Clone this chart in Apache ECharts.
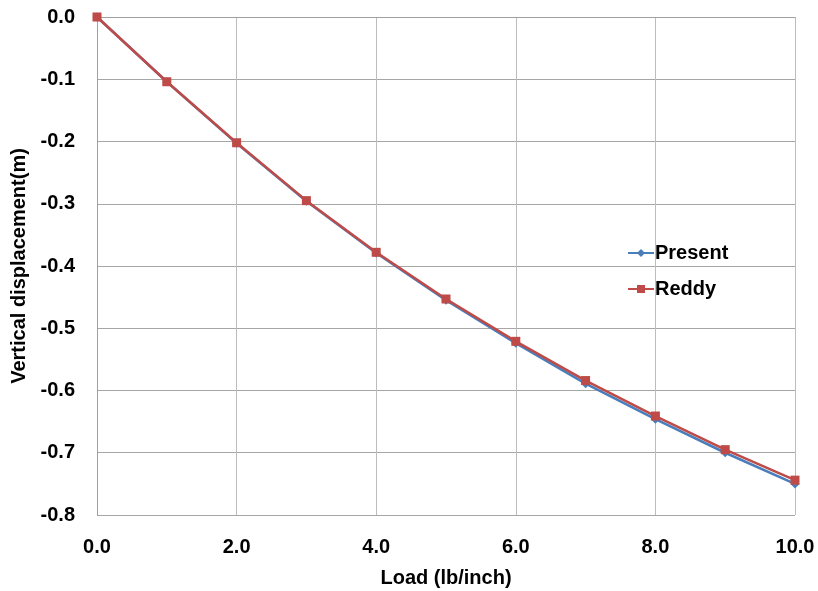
<!DOCTYPE html>
<html>
<head>
<meta charset="utf-8">
<script src="https://cdn.jsdelivr.net/npm/echarts@6/dist/echarts.min.js"></script>
<style>
  html, body { margin: 0; padding: 0; background: #fff; }
  #chart { width: 818px; height: 591px; }
</style>
</head>
<body>
<div id="chart"></div>
<script>
var loads = [0, 1, 2, 3, 4, 5, 6, 7, 8, 9, 10]
var present = [0, -0.104, -0.203, -0.296, -0.379, -0.455, -0.524, -0.589, -0.646, -0.700, -0.750]
var reddy = [0, -0.104, -0.202, -0.295, -0.378, -0.453, -0.521, -0.584, -0.641, -0.695, -0.744]

var chart = echarts.init(document.getElementById('chart'))
var font = 'Liberation Sans'

function pairs (ys) {
  var out = []
  for (var i = 0; i < loads.length; i++) out.push([loads[i], ys[i]])
  return out
}

var option = {
  animation: false,
  grid: { left: 97, right: 23, top: 17, bottom: 76, containLabel: false, outerBoundsMode: 'none' },
  legend: {
    orient: 'vertical',
    left: 622,
    top: 238,
    itemGap: 16,
    itemWidth: 26,
    itemHeight: 10,
    textStyle: { fontFamily: font, fontWeight: 'bold', fontSize: 20, color: '#000', padding: [0, 0, 0, -4] },
    data: ['Present', 'Reddy']
  },
  xAxis: {
    type: 'value',
    min: 0,
    max: 10,
    interval: 2,
    name: 'Load (lb/inch)',
    nameLocation: 'middle',
    nameGap: 53,
    nameTextStyle: { fontFamily: font, fontWeight: 'bold', fontSize: 20, color: '#000' },
    axisLine: { show: true, lineStyle: { color: '#a0a0a0' } },
    axisTick: { show: false },
    axisLabel: {
      margin: 22,
      fontFamily: font, fontWeight: 'bold', fontSize: 20, color: '#000',
      formatter: function (v) { return v.toFixed(1) }
    },
    splitLine: { show: true, lineStyle: { color: '#bdbdbd' } }
  },
  yAxis: {
    type: 'value',
    min: -0.8,
    max: 0,
    interval: 0.1,
    name: 'Vertical displacement(m)',
    nameLocation: 'middle',
    nameGap: 67,
    nameTextStyle: { fontFamily: font, fontWeight: 'bold', fontSize: 20, color: '#000' },
    axisLine: { show: true, lineStyle: { color: '#a0a0a0' } },
    axisTick: { show: false },
    axisLabel: {
      margin: 22,
      fontFamily: font, fontWeight: 'bold', fontSize: 20, color: '#000',
      formatter: function (v) { return v.toFixed(1) }
    },
    splitLine: { show: true, lineStyle: { color: '#a6a6a6' } }
  },
  series: [{
    name: 'Present',
    type: 'line',
    symbol: 'diamond',
    symbolSize: 9,
    lineStyle: { width: 2.5, color: '#4a7ebb' },
    itemStyle: { color: '#4a7ebb' },
    data: pairs(present)
  }, {
    name: 'Reddy',
    type: 'line',
    symbol: 'rect',
    symbolSize: 9,
    lineStyle: { width: 2.5, color: '#be4b48' },
    itemStyle: { color: '#be4b48' },
    data: pairs(reddy)
  }]
}
chart.setOption(option)
</script>
</body>
</html>
